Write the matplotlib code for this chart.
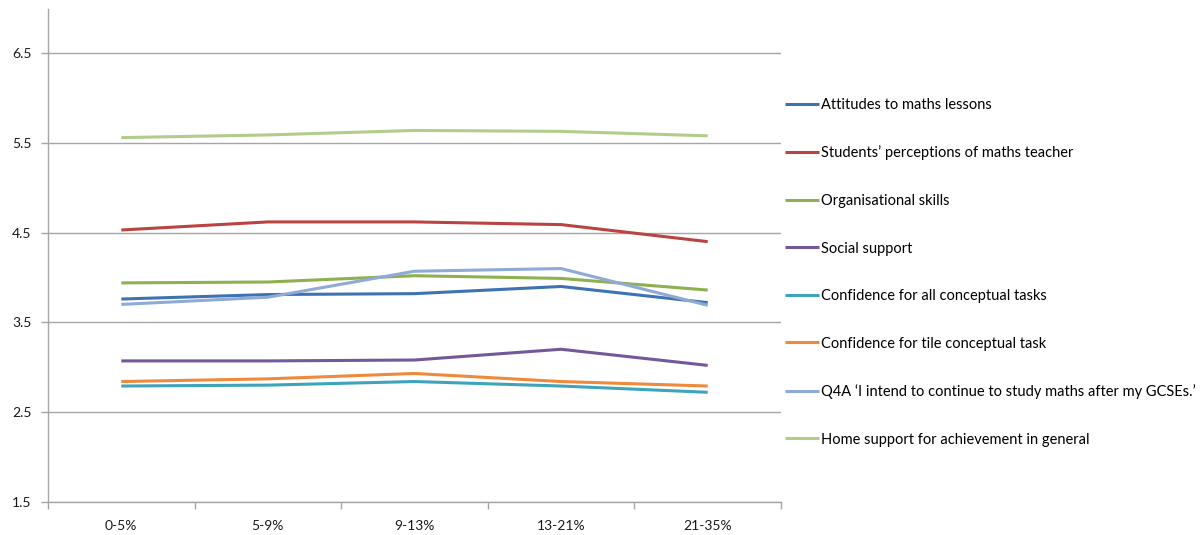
import matplotlib
matplotlib.use("Agg")
import matplotlib.pyplot as plt
import numpy as np

plt.rcParams['font.family'] = ['Lato', 'DejaVu Sans']

categories = ["0-5%", "5-9%", "9-13%", "13-21%", "21-35%"]

attitudes = [3.76, 3.81, 3.82, 3.90, 3.72]
perceptions = [4.53, 4.62, 4.62, 4.59, 4.40]
organisational = [3.94, 3.95, 4.02, 3.99, 3.86]
social = [3.07, 3.07, 3.08, 3.20, 3.02]
conf_all = [2.79, 2.80, 2.84, 2.79, 2.72]
conf_tile = [2.84, 2.87, 2.93, 2.84, 2.79]
q4a = [3.70, 3.78, 4.07, 4.10, 3.69]
home_support = [5.56, 5.59, 5.64, 5.63, 5.58]

series_names = [
    "Attitudes to maths lessons",
    "Students\u2019 perceptions of maths teacher",
    "Organisational skills",
    "Social support",
    "Confidence for all conceptual tasks",
    "Confidence for tile conceptual task",
    "Q4A \u2018I intend to continue to study maths after my GCSEs.\u2019",
    "Home support for achievement in general",
]
series_values = [attitudes, perceptions, organisational, social,
                 conf_all, conf_tile, q4a, home_support]
colors = ["#3F72B0", "#B94441", "#8FB04F", "#74589A",
          "#3FA3BC", "#EE8A3C", "#8FAAD6", "#B2CC8C"]

yticks = [1.5, 2.5, 3.5, 4.5, 5.5, 6.5]

fig = plt.figure(figsize=(12.01, 5.35), dpi=100)
ax = fig.add_axes([48 / 1201, 1 - 501.7 / 535, (781 - 48) / 1201, (501.7 - 8.5) / 535])

x = np.arange(len(categories))
lines = []
for name, vals, c in zip(series_names, series_values, colors):
    ln, = ax.plot(x, vals, color=c, lw=2.2, label=name, solid_capstyle='butt')
    lines.append(ln)

ax.set_xlim(-0.5, len(categories) - 0.5)
ax.set_ylim(1.5, 7.0)
ax.set_yticks(yticks)
ax.set_yticklabels([f"{t:.1f}" for t in yticks])
ax.yaxis.grid(True, color="#A6A6A6", lw=1.0)
ax.set_axisbelow(True)

ax.set_xticks(x)
ax.set_xticklabels(categories)
ax.set_xticks(np.arange(-0.5, len(categories), 1.0), minor=True)
ax.tick_params(axis='x', which='major', length=0, pad=13, labelsize=10, labelcolor="#1A1A1A")
ax.tick_params(axis='x', which='minor', length=5, width=1, color="#A6A6A6", direction='out')
ax.tick_params(axis='y', length=5, width=1, color="#A6A6A6", pad=7, labelsize=10, labelcolor="#1A1A1A")

for s in ['top', 'right']:
    ax.spines[s].set_visible(False)
for s in ['left', 'bottom']:
    ax.spines[s].set_color("#A6A6A6")
    ax.spines[s].set_linewidth(1.0)

leg = fig.legend(handles=lines, loc='upper left',
                 bbox_to_anchor=(785 / 1201, 1 - 98 / 535),
                 frameon=False, fontsize=10.5, handlelength=2.33,
                 handletextpad=0.14, labelspacing=2.30, borderaxespad=0,
                 borderpad=0)

fig.savefig("out.png", dpi=100, facecolor="white")
